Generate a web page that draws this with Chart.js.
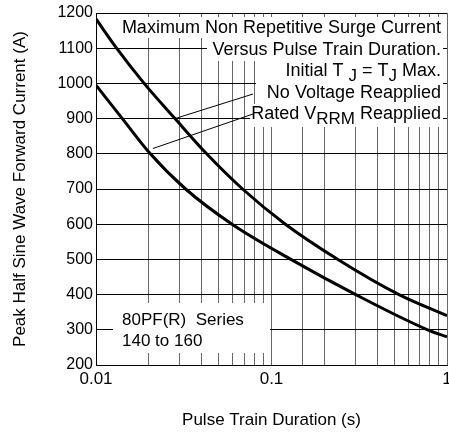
<!DOCTYPE html>
<html>
<head>
<meta charset="utf-8">
<script src="https://cdn.jsdelivr.net/npm/chart.js@4/dist/chart.umd.min.js"></script>
<style>
  html, body { margin: 0; padding: 0; background: #ffffff; }
  canvas { display: block; }
</style>
</head>
<body>
<canvas id="surgeChart" width="449" height="433"></canvas>
<script>
const FONT = "'Liberation Sans', Arial, sans-serif";

// No Voltage Reapplied (upper curve)
const noVoltageDuration = [0.01, 0.0131, 0.0188, 0.0282, 0.0427, 0.0684, 0.12, 0.239, 0.533, 1];
const noVoltageCurrent = [1183, 1100, 1000, 900, 800, 700, 600, 500, 400, 340];

// Rated VRRM Reapplied (lower curve)
const ratedDuration = [0.01, 0.01413, 0.0204, 0.0324, 0.0596, 0.129, 0.302, 0.776, 1];
const ratedCurrent = [995, 900, 800, 700, 600, 500, 400, 300, 280];

const xTickLabels = [0.01, 0.1, 1];
const yTickValues = [200, 300, 400, 500, 600, 700, 800, 900, 1000, 1100, 1200];

const toPoints = (xs, ys) => xs.map((x, i) => ({ x, y: ys[i] }));

function drawRich(ctx, parts, rightX, y) {
    let total = 0;
    parts.forEach(p => {
        ctx.font = (p.sub ? '17px ' : '18px ') + FONT;
        total += ctx.measureText(p.t).width;
    });
    let x = rightX - total;
    parts.forEach(p => {
        ctx.font = (p.sub ? '17px ' : '18px ') + FONT;
        ctx.fillText(p.t, x, y + (p.sub ? 5 : 0));
        x += ctx.measureText(p.t).width;
    });
}

const annotations = {
    id: 'annotations',
    beforeDatasetsDraw(chart) {
        const { ctx, scales: { x, y } } = chart;
        ctx.save();
        ctx.fillStyle = '#ffffff';
        // white boxes behind the notes
        ctx.fillRect(117, 17, 326, 21);
        ctx.fillRect(207, 38, 236, 23);
        ctx.fillRect(258, 61, 185, 21);
        ctx.fillRect(256, 82, 187, 22);
        ctx.fillRect(250, 104, 193, 23);
        ctx.fillRect(113, 303, 157, 50);

        ctx.fillStyle = '#000000';
        ctx.textBaseline = 'middle';
        drawRich(ctx, [{ t: 'Maximum Non Repetitive Surge Current' }], 441, 28);
        drawRich(ctx, [{ t: 'Versus Pulse Train Duration.' }], 441, 50);
        drawRich(ctx, [
            { t: 'Initial T ' }, { t: 'J', sub: true }, { t: ' = T' }, { t: 'J', sub: true }, { t: ' Max.' }
        ], 441, 71);
        drawRich(ctx, [{ t: 'No Voltage Reapplied' }], 441, 93);
        drawRich(ctx, [{ t: 'Rated V' }, { t: 'RRM', sub: true }, { t: ' Reapplied' }], 441, 114);

        ctx.textAlign = 'left';
        ctx.font = '17px ' + FONT;
        ctx.fillText('80PF(R)  Series', 122, 320);
        ctx.fillText('140 to 160', 122, 341);

        // leader lines
        ctx.strokeStyle = '#000000';
        ctx.lineWidth = 1;
        ctx.beginPath();
        ctx.moveTo(x.getPixelForValue(0.0282), y.getPixelForValue(900));
        ctx.lineTo(253, 94);
        ctx.moveTo(x.getPixelForValue(0.0211), y.getPixelForValue(815));
        ctx.lineTo(253, 114);
        ctx.stroke();
        ctx.restore();
    }
};

new Chart(document.getElementById('surgeChart'), {
    type: 'line',
    data: {
        datasets: [
            {
                label: 'No Voltage Reapplied',
                data: toPoints(noVoltageDuration, noVoltageCurrent),
                borderColor: '#000000',
                borderWidth: 3,
                pointRadius: 0,
                cubicInterpolationMode: 'monotone',
                fill: false
            },
            {
                label: 'Rated VRRM Reapplied',
                data: toPoints(ratedDuration, ratedCurrent),
                borderColor: '#000000',
                borderWidth: 3,
                pointRadius: 0,
                cubicInterpolationMode: 'monotone',
                fill: false
            }
        ]
    },
    options: {
        responsive: false,
        animation: false,
        devicePixelRatio: 1,
        layout: { padding: { top: 13, right: 2, left: 0, bottom: 0 } },
        plugins: {
            legend: { display: false },
            tooltip: { enabled: false }
        },
        scales: {
            x: {
                type: 'logarithmic',
                min: 0.01,
                max: 1,
                afterFit: (scale) => {
                    scale.height = 68;
                    scale.paddingLeft = 0;
                    scale.paddingRight = 0;
                },
                grid: { color: '#666666', lineWidth: 1, drawTicks: false },
                border: { display: true, color: '#000000', width: 1 },
                ticks: {
                    autoSkip: false,
                    maxRotation: 0,
                    padding: 4,
                    color: '#000000',
                    font: { family: FONT, size: 17 },
                    callback: (v) => xTickLabels.some(t => Math.abs(t - v) < 1e-9) ? String(v) : ''
                },
                title: {
                    display: true,
                    text: 'Pulse Train Duration (s)',
                    color: '#000000',
                    font: { family: FONT, size: 17 },
                    padding: { top: 0, bottom: 2 }
                }
            },
            y: {
                type: 'linear',
                min: 200,
                max: 1200,
                afterFit: (scale) => { scale.width = 96; },
                afterBuildTicks: (scale) => { scale.ticks = yTickValues.map(v => ({ value: v })); },
                grid: { color: '#000000', lineWidth: 1, drawTicks: false },
                border: { display: true, color: '#000000', width: 1 },
                ticks: {
                    padding: 3,
                    color: '#000000',
                    font: { family: FONT, size: 16 },
                    callback: (v) => String(v)
                },
                title: {
                    display: true,
                    text: 'Peak Half Sine Wave Forward Current (A)',
                    color: '#000000',
                    font: { family: FONT, size: 17 },
                    padding: { top: 10, bottom: 0 }
                }
            }
        }
    },
    plugins: [annotations]
});
</script>
</body>
</html>
